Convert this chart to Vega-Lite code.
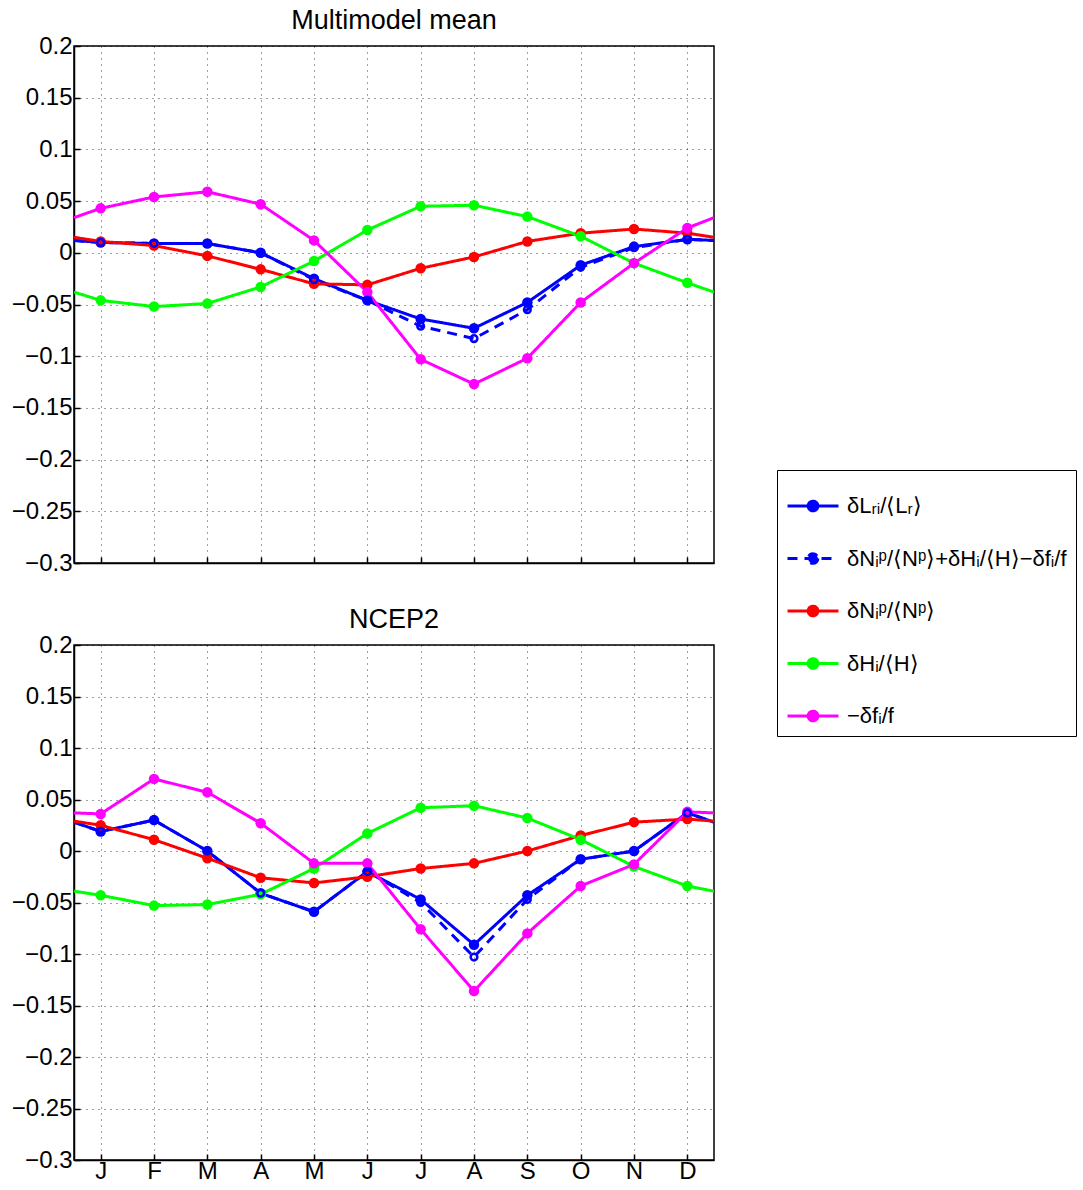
{
  "$schema": "https://vega.github.io/schema/vega-lite/v6.json",
  "padding": {"left": 10, "top": 6, "right": 0, "bottom": 0},
  "background": "white",
  "datasets": {
    "mm": [
      {"series": "LR", "month": 0.5, "value": 0.012},
      {"series": "LR", "month": 1, "value": 0.010},
      {"series": "LR", "month": 2, "value": 0.009},
      {"series": "LR", "month": 3, "value": 0.009},
      {"series": "LR", "month": 4, "value": 0.000},
      {"series": "LR", "month": 5, "value": -0.025},
      {"series": "LR", "month": 6, "value": -0.046},
      {"series": "LR", "month": 7, "value": -0.064},
      {"series": "LR", "month": 8, "value": -0.073},
      {"series": "LR", "month": 9, "value": -0.048},
      {"series": "LR", "month": 10, "value": -0.012},
      {"series": "LR", "month": 11, "value": 0.006},
      {"series": "LR", "month": 12, "value": 0.013},
      {"series": "LR", "month": 12.5, "value": 0.012},
      {"series": "sum", "month": 0.5, "value": 0.012},
      {"series": "sum", "month": 1, "value": 0.010},
      {"series": "sum", "month": 2, "value": 0.009},
      {"series": "sum", "month": 3, "value": 0.009},
      {"series": "sum", "month": 4, "value": 0.000},
      {"series": "sum", "month": 5, "value": -0.026},
      {"series": "sum", "month": 6, "value": -0.046},
      {"series": "sum", "month": 7, "value": -0.071},
      {"series": "sum", "month": 8, "value": -0.083},
      {"series": "sum", "month": 9, "value": -0.055},
      {"series": "sum", "month": 10, "value": -0.014},
      {"series": "sum", "month": 11, "value": 0.005},
      {"series": "sum", "month": 12, "value": 0.013},
      {"series": "sum", "month": 12.5, "value": 0.012},
      {"series": "Np", "month": 0.5, "value": 0.015},
      {"series": "Np", "month": 1, "value": 0.011},
      {"series": "Np", "month": 2, "value": 0.007},
      {"series": "Np", "month": 3, "value": -0.003},
      {"series": "Np", "month": 4, "value": -0.016},
      {"series": "Np", "month": 5, "value": -0.030},
      {"series": "Np", "month": 6, "value": -0.031},
      {"series": "Np", "month": 7, "value": -0.015},
      {"series": "Np", "month": 8, "value": -0.004},
      {"series": "Np", "month": 9, "value": 0.011},
      {"series": "Np", "month": 10, "value": 0.019},
      {"series": "Np", "month": 11, "value": 0.023},
      {"series": "Np", "month": 12, "value": 0.019},
      {"series": "Np", "month": 12.5, "value": 0.015},
      {"series": "H", "month": 0.5, "value": -0.038},
      {"series": "H", "month": 1, "value": -0.046},
      {"series": "H", "month": 2, "value": -0.052},
      {"series": "H", "month": 3, "value": -0.049},
      {"series": "H", "month": 4, "value": -0.033},
      {"series": "H", "month": 5, "value": -0.008},
      {"series": "H", "month": 6, "value": 0.022},
      {"series": "H", "month": 7, "value": 0.045},
      {"series": "H", "month": 8, "value": 0.046},
      {"series": "H", "month": 9, "value": 0.035},
      {"series": "H", "month": 10, "value": 0.016},
      {"series": "H", "month": 11, "value": -0.010},
      {"series": "H", "month": 12, "value": -0.029},
      {"series": "H", "month": 12.5, "value": -0.038},
      {"series": "f", "month": 0.5, "value": 0.034},
      {"series": "f", "month": 1, "value": 0.043},
      {"series": "f", "month": 2, "value": 0.054},
      {"series": "f", "month": 3, "value": 0.059},
      {"series": "f", "month": 4, "value": 0.047},
      {"series": "f", "month": 5, "value": 0.012},
      {"series": "f", "month": 6, "value": -0.038},
      {"series": "f", "month": 7, "value": -0.103},
      {"series": "f", "month": 8, "value": -0.127},
      {"series": "f", "month": 9, "value": -0.102},
      {"series": "f", "month": 10, "value": -0.048},
      {"series": "f", "month": 11, "value": -0.010},
      {"series": "f", "month": 12, "value": 0.024},
      {"series": "f", "month": 12.5, "value": 0.034}
    ],
    "ncep": [
      {"series": "LR", "month": 0.5, "value": 0.028},
      {"series": "LR", "month": 1, "value": 0.019},
      {"series": "LR", "month": 2, "value": 0.030},
      {"series": "LR", "month": 3, "value": 0.000},
      {"series": "LR", "month": 4, "value": -0.041},
      {"series": "LR", "month": 5, "value": -0.059},
      {"series": "LR", "month": 6, "value": -0.020},
      {"series": "LR", "month": 7, "value": -0.047},
      {"series": "LR", "month": 8, "value": -0.091},
      {"series": "LR", "month": 9, "value": -0.043},
      {"series": "LR", "month": 10, "value": -0.008},
      {"series": "LR", "month": 11, "value": 0.000},
      {"series": "LR", "month": 12, "value": 0.037},
      {"series": "LR", "month": 12.5, "value": 0.028},
      {"series": "sum", "month": 0.5, "value": 0.028},
      {"series": "sum", "month": 1, "value": 0.019},
      {"series": "sum", "month": 2, "value": 0.030},
      {"series": "sum", "month": 3, "value": 0.000},
      {"series": "sum", "month": 4, "value": -0.041},
      {"series": "sum", "month": 5, "value": -0.059},
      {"series": "sum", "month": 6, "value": -0.020},
      {"series": "sum", "month": 7, "value": -0.050},
      {"series": "sum", "month": 8, "value": -0.103},
      {"series": "sum", "month": 9, "value": -0.047},
      {"series": "sum", "month": 10, "value": -0.008},
      {"series": "sum", "month": 11, "value": 0.000},
      {"series": "sum", "month": 12, "value": 0.037},
      {"series": "sum", "month": 12.5, "value": 0.028},
      {"series": "Np", "month": 0.5, "value": 0.029},
      {"series": "Np", "month": 1, "value": 0.025},
      {"series": "Np", "month": 2, "value": 0.011},
      {"series": "Np", "month": 3, "value": -0.007},
      {"series": "Np", "month": 4, "value": -0.026},
      {"series": "Np", "month": 5, "value": -0.031},
      {"series": "Np", "month": 6, "value": -0.025},
      {"series": "Np", "month": 7, "value": -0.017},
      {"series": "Np", "month": 8, "value": -0.012},
      {"series": "Np", "month": 9, "value": 0.000},
      {"series": "Np", "month": 10, "value": 0.015},
      {"series": "Np", "month": 11, "value": 0.028},
      {"series": "Np", "month": 12, "value": 0.031},
      {"series": "Np", "month": 12.5, "value": 0.029},
      {"series": "H", "month": 0.5, "value": -0.039},
      {"series": "H", "month": 1, "value": -0.043},
      {"series": "H", "month": 2, "value": -0.053},
      {"series": "H", "month": 3, "value": -0.052},
      {"series": "H", "month": 4, "value": -0.042},
      {"series": "H", "month": 5, "value": -0.017},
      {"series": "H", "month": 6, "value": 0.017},
      {"series": "H", "month": 7, "value": 0.042},
      {"series": "H", "month": 8, "value": 0.044},
      {"series": "H", "month": 9, "value": 0.032},
      {"series": "H", "month": 10, "value": 0.011},
      {"series": "H", "month": 11, "value": -0.015},
      {"series": "H", "month": 12, "value": -0.034},
      {"series": "H", "month": 12.5, "value": -0.039},
      {"series": "f", "month": 0.5, "value": 0.037},
      {"series": "f", "month": 1, "value": 0.036},
      {"series": "f", "month": 2, "value": 0.070},
      {"series": "f", "month": 3, "value": 0.057},
      {"series": "f", "month": 4, "value": 0.027},
      {"series": "f", "month": 5, "value": -0.012},
      {"series": "f", "month": 6, "value": -0.012},
      {"series": "f", "month": 7, "value": -0.076},
      {"series": "f", "month": 8, "value": -0.136},
      {"series": "f", "month": 9, "value": -0.080},
      {"series": "f", "month": 10, "value": -0.034},
      {"series": "f", "month": 11, "value": -0.013},
      {"series": "f", "month": 12, "value": 0.038},
      {"series": "f", "month": 12.5, "value": 0.037}
    ]
  },
  "vconcat": [
    {
      "title": {"text": "Multimodel mean", "dy": 5},
      "width": 640,
      "height": 517,
      "data": {"name": "mm"},
      "layer": [
        {
          "mark": {"type": "line", "strokeWidth": 3, "clip": true},
          "encoding": {
            "x": {"field": "month", "type": "quantitative", "scale": {"domain": [0.5, 12.5], "nice": false, "zero": false},
                  "axis": {"values": [1,2,3,4,5,6,7,8,9,10,11,12], "labels": false, "title": null}},
            "y": {"field": "value", "type": "quantitative", "scale": {"domain": [-0.3, 0.2], "nice": false, "zero": false},
                  "axis": {"values": [-0.3,-0.25,-0.2,-0.15,-0.1,-0.05,0,0.05,0.1,0.15,0.2], "format": ".2~f", "title": null}},
            "color": {"field": "series", "type": "nominal",
                      "scale": {"domain": ["LR","sum","Np","H","f"], "range": ["#0000ff","#0000ff","#ff0000","#00ff00","#ff00ff"]},
                      "legend": {"title": null, "labelExpr": "datum.value == 'LR' ? 'δLᵣᵢ/⟨Lᵣ⟩' : datum.value == 'sum' ? 'δNᵢᵖ/⟨Nᵖ⟩+δHᵢ/⟨H⟩−δfᵢ/f' : datum.value == 'Np' ? 'δNᵢᵖ/⟨Nᵖ⟩' : datum.value == 'H' ? 'δHᵢ/⟨H⟩' : '−δfᵢ/f'"}},
            "strokeDash": {"field": "series", "type": "nominal",
                      "scale": {"domain": ["LR","sum","Np","H","f"], "range": [[1,0],[10,7],[1,0],[1,0],[1,0]]},
                      "legend": {"title": null, "labelExpr": "datum.value == 'LR' ? 'δLᵣᵢ/⟨Lᵣ⟩' : datum.value == 'sum' ? 'δNᵢᵖ/⟨Nᵖ⟩+δHᵢ/⟨H⟩−δfᵢ/f' : datum.value == 'Np' ? 'δNᵢᵖ/⟨Nᵖ⟩' : datum.value == 'H' ? 'δHᵢ/⟨H⟩' : '−δfᵢ/f'"}}
          }
        },
        {
          "transform": [{"filter": "datum.month >= 1 && datum.month <= 12 && datum.series != 'sum'"}],
          "mark": {"type": "point", "filled": true, "size": 110, "opacity": 1},
          "encoding": {
            "x": {"field": "month", "type": "quantitative"},
            "y": {"field": "value", "type": "quantitative"},
            "color": {"field": "series", "type": "nominal", "legend": null}
          }
        },
        {
          "transform": [{"filter": "datum.month >= 1 && datum.month <= 12 && datum.series == 'sum'"}],
          "mark": {"type": "point", "filled": false, "size": 45, "strokeWidth": 2.5, "color": "#0000ff", "opacity": 1},
          "encoding": {
            "x": {"field": "month", "type": "quantitative"},
            "y": {"field": "value", "type": "quantitative"}
          }
        }
      ]
    },
    {
      "title": {"text": "NCEP2", "dy": 5},
      "width": 640,
      "height": 515,
      "data": {"name": "ncep"},
      "layer": [
        {
          "mark": {"type": "line", "strokeWidth": 3, "clip": true},
          "encoding": {
            "x": {"field": "month", "type": "quantitative", "scale": {"domain": [0.5, 12.5], "nice": false, "zero": false},
                  "axis": {"values": [1,2,3,4,5,6,7,8,9,10,11,12], "title": null,
                           "labelExpr": "['J','F','M','A','M','J','J','A','S','O','N','D'][datum.value - 1]"}},
            "y": {"field": "value", "type": "quantitative", "scale": {"domain": [-0.3, 0.2], "nice": false, "zero": false},
                  "axis": {"values": [-0.3,-0.25,-0.2,-0.15,-0.1,-0.05,0,0.05,0.1,0.15,0.2], "format": ".2~f", "title": null}},
            "color": {"field": "series", "type": "nominal",
                      "scale": {"domain": ["LR","sum","Np","H","f"], "range": ["#0000ff","#0000ff","#ff0000","#00ff00","#ff00ff"]},
                      "legend": {"title": null, "labelExpr": "datum.value == 'LR' ? 'δLᵣᵢ/⟨Lᵣ⟩' : datum.value == 'sum' ? 'δNᵢᵖ/⟨Nᵖ⟩+δHᵢ/⟨H⟩−δfᵢ/f' : datum.value == 'Np' ? 'δNᵢᵖ/⟨Nᵖ⟩' : datum.value == 'H' ? 'δHᵢ/⟨H⟩' : '−δfᵢ/f'"}},
            "strokeDash": {"field": "series", "type": "nominal",
                      "scale": {"domain": ["LR","sum","Np","H","f"], "range": [[1,0],[10,7],[1,0],[1,0],[1,0]]},
                      "legend": {"title": null, "labelExpr": "datum.value == 'LR' ? 'δLᵣᵢ/⟨Lᵣ⟩' : datum.value == 'sum' ? 'δNᵢᵖ/⟨Nᵖ⟩+δHᵢ/⟨H⟩−δfᵢ/f' : datum.value == 'Np' ? 'δNᵢᵖ/⟨Nᵖ⟩' : datum.value == 'H' ? 'δHᵢ/⟨H⟩' : '−δfᵢ/f'"}}
          }
        },
        {
          "transform": [{"filter": "datum.month >= 1 && datum.month <= 12 && datum.series != 'sum'"}],
          "mark": {"type": "point", "filled": true, "size": 110, "opacity": 1},
          "encoding": {
            "x": {"field": "month", "type": "quantitative"},
            "y": {"field": "value", "type": "quantitative"},
            "color": {"field": "series", "type": "nominal", "legend": null}
          }
        },
        {
          "transform": [{"filter": "datum.month >= 1 && datum.month <= 12 && datum.series == 'sum'"}],
          "mark": {"type": "point", "filled": false, "size": 45, "strokeWidth": 2.5, "color": "#0000ff", "opacity": 1},
          "encoding": {
            "x": {"field": "month", "type": "quantitative"},
            "y": {"field": "value", "type": "quantitative"}
          }
        }
      ]
    }
  ],
  "spacing": 29,
  "resolve": {
    "scale": {"color": "shared", "strokeDash": "shared"},
    "legend": {"color": "shared", "strokeDash": "shared"}
  },
  "config": {
    "font": "Liberation Sans",
    "view": {"stroke": "black", "strokeWidth": 1.5},
    "title": {"fontSize": 27, "fontWeight": "normal", "color": "black", "font": "Liberation Sans", "offset": 0},
    "axis": {
      "labelFont": "Liberation Sans",
      "labelFontSize": 24,
      "labelColor": "black",
      "domainColor": "black",
      "domainWidth": 1.5,
      "tickColor": "black",
      "tickWidth": 1.5,
      "tickSize": -6,
      "labelPadding": 8,
      "grid": true,
      "gridColor": "black",
      "gridOpacity": 0.75,
      "gridDash": [1, 5],
      "gridWidth": 1
    },
    "axisY": {"labelPadding": 8},
    "axisX": {"labelPadding": 5},
    "legend": {
      "orient": "none",
      "legendX": 703,
      "legendY": 424,
      "symbolType": "M-1,0H1M0.19,0A0.19,0.19,0,1,1,-0.19,0A0.19,0.19,0,1,1,0.19,0Z",
      "symbolSize": 2600,
      "symbolStrokeWidth": 3,
      "labelFont": "Liberation Sans",
      "labelFontSize": 22,
      "labelColor": "black",
      "labelLimit": 500,
      "labelOffset": 7,
      "padding": 9,
      "rowPadding": 14.5,
      "strokeColor": "black",
      "fillColor": "white"
    }
  }
}
